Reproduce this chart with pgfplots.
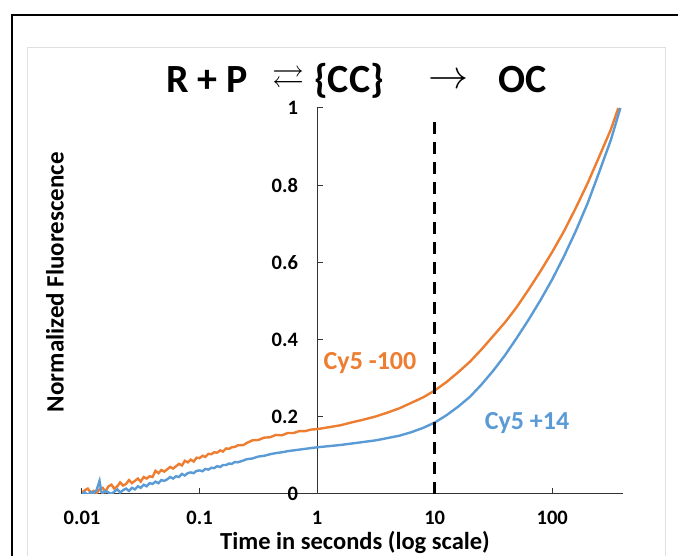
\documentclass[border=0pt]{standalone}
\usepackage{fontspec}
\setmainfont{Carlito}
\usepackage{amssymb}
\usepackage{graphicx}
\usepackage{pgfplots}
\pgfplotsset{compat=1.18}
\definecolor{corange}{RGB}{237,125,49}
\definecolor{cblue}{RGB}{91,155,213}
\begin{document}
\begin{tikzpicture}[x=1pt,y=1pt]
\path[use as bounding box] (0,0) rectangle (678,556);
\draw[line width=2pt] (12,-20) -- (12,541) -- (700,541);
\draw[black!12, line width=1pt] (27,-5) -- (27,508) -- (665,508) -- (665,-5);
\begin{axis}[at={(82pt,62pt)}, anchor=south west,
  width=541pt, height=386pt, scale only axis,
  xmode=log, xmin=0.01, xmax=400, ymin=0, ymax=1,
  axis lines=middle, clip=true,
  axis line style={black!80, line width=1pt, -},
  xtick={0.01,0.1,1,10,100}, xticklabels={0.01,0.1,1,10,100},
  ytick={0,0.2,0.4,0.6,0.8,1}, yticklabels={0,0.2,0.4,0.6,0.8,1},
  xminorticks=false, yminorticks=false,
  hide obscured x ticks=false, hide obscured y ticks=false,
  tick align=inside, major tick length=6pt,
  tick style={black!80, line width=1pt},
  xticklabel style={anchor=north, inner sep=0pt, yshift=-17pt, font=\fontsize{20.5}{22}\selectfont\bfseries},
  yticklabel style={anchor=east, inner sep=0pt, xshift=-19pt, font=\fontsize{20.5}{22}\selectfont\bfseries},
  /pgf/number format/assume math mode=true,
]
\addplot[corange, line width=2.4pt, no marks] coordinates {
(0.0100,0.004) (0.0106,0.010) (0.0112,0.014) (0.0119,0.003) (0.0126,0.008)
(0.0133,0.002) (0.0141,0.012) (0.0150,0.016) (0.0158,0.006) (0.0168,0.020)
(0.0178,0.024) (0.0188,0.014) (0.0200,0.020) (0.0211,0.030) (0.0224,0.022)
(0.0237,0.026) (0.0251,0.036) (0.0266,0.028) (0.0282,0.034) (0.0299,0.040)
(0.0316,0.032) (0.0335,0.044) (0.0355,0.040) (0.0376,0.046) (0.0398,0.044)
(0.0422,0.060) (0.0447,0.054) (0.0473,0.062) (0.0501,0.058) (0.0531,0.064)
(0.0562,0.070) (0.0596,0.066) (0.0631,0.072) (0.0668,0.078) (0.0708,0.074)
(0.0750,0.086) (0.0794,0.082) (0.0841,0.089) (0.0891,0.084) (0.0944,0.094)
(0.100,0.093) (0.106,0.099) (0.112,0.096) (0.119,0.104) (0.126,0.103)
(0.133,0.108) (0.141,0.107) (0.150,0.113) (0.158,0.110) (0.168,0.118)
(0.178,0.117) (0.188,0.121) (0.200,0.122) (0.211,0.126) (0.237,0.127)
(0.251,0.132) (0.282,0.139) (0.316,0.140) (0.355,0.146) (0.398,0.147)
(0.447,0.153) (0.501,0.152) (0.562,0.158) (0.631,0.158) (0.708,0.163)
(0.794,0.163) (0.891,0.167) (1.00,0.168) (1.26,0.173) (1.58,0.178)
(2.00,0.186) (2.51,0.193) (3.16,0.201) (3.98,0.211) (5.01,0.222)
(6.31,0.236) (7.94,0.250) (10.0,0.268) (12.6,0.290) (15.8,0.315)
(20.0,0.343) (25.1,0.375) (31.6,0.410) (39.8,0.445) (50.1,0.485)
(63.1,0.530) (79.4,0.577) (100,0.627) (126,0.681) (158,0.740)
(200,0.805) (251,0.874) (316,0.945) (365,1.000)
};
\addplot[cblue, line width=2.4pt, no marks] coordinates {
(0.0100,0.000) (0.0106,0.004) (0.0112,-0.004) (0.0119,0.006) (0.0126,0.002)
(0.0133,0.010) (0.0141,0.034) (0.0146,0.006) (0.0150,0.002) (0.0158,0.008)
(0.0168,0.004) (0.0178,0.000) (0.0188,0.006) (0.0200,0.012) (0.0211,0.004)
(0.0224,0.010) (0.0237,0.014) (0.0251,0.008) (0.0266,0.016) (0.0282,0.012)
(0.0299,0.020) (0.0316,0.016) (0.0335,0.024) (0.0355,0.020) (0.0376,0.028)
(0.0398,0.026) (0.0422,0.032) (0.0447,0.028) (0.0473,0.036) (0.0501,0.034)
(0.0531,0.038) (0.0562,0.044) (0.0596,0.040) (0.0631,0.046) (0.0668,0.044)
(0.0708,0.052) (0.0750,0.048) (0.0794,0.054) (0.0841,0.056) (0.0891,0.054)
(0.0944,0.060) (0.100,0.061) (0.106,0.059) (0.112,0.065) (0.119,0.063)
(0.126,0.068) (0.133,0.067) (0.141,0.072) (0.150,0.070) (0.158,0.075)
(0.168,0.075) (0.178,0.079) (0.188,0.078) (0.200,0.083) (0.211,0.082)
(0.237,0.087) (0.251,0.090) (0.282,0.092) (0.316,0.097) (0.355,0.099)
(0.398,0.103) (0.447,0.106) (0.501,0.108) (0.562,0.111) (0.631,0.113)
(0.708,0.115) (0.794,0.117) (0.891,0.119) (1.00,0.121) (1.26,0.124)
(1.58,0.127) (2.00,0.131) (2.51,0.135) (3.16,0.139) (3.98,0.145)
(5.01,0.151) (6.31,0.160) (7.94,0.171) (10.0,0.185) (12.6,0.204)
(15.8,0.226) (20.0,0.252) (25.1,0.284) (31.6,0.320) (39.8,0.360)
(50.1,0.405) (63.1,0.452) (79.4,0.502) (100,0.556) (126,0.616)
(158,0.680) (200,0.753) (251,0.834) (316,0.918) (380,1.000)
};
\addplot[black, line width=3pt, dash pattern=on 12pt off 8pt, no marks] coordinates {(10,0) (10,0.964)};
\end{axis}
% titles and labels
\node[anchor=base west, inner sep=0pt, font=\fontsize{40}{42}\selectfont\bfseries] at (166,463) {R + P};
\node[inner sep=0pt] at (288,476) {\resizebox{32pt}{!}{$\rightleftarrows$}};
\node[anchor=base west, inner sep=0pt, font=\fontsize{40}{42}\selectfont\bfseries] at (314,463) {\{CC\}};
\node[inner sep=0pt] at (448,475) {\resizebox{40pt}{!}{$\rightarrow$}};
\node[anchor=base west, inner sep=0pt, font=\fontsize{40}{42}\selectfont\bfseries] at (498,463) {OC};
\node[rotate=90, inner sep=0pt, font=\fontsize{25}{27}\selectfont\bfseries] at (55,274) {Normalized Fluorescence};
\node[anchor=base, inner sep=0pt, font=\fontsize{24.5}{26}\selectfont\bfseries] at (355,6) {Time in seconds (log scale)};
\node[inner sep=0pt, text=corange, font=\fontsize{26}{28}\selectfont\bfseries] at (370,193) {Cy5 -100};
\node[inner sep=0pt, text=cblue, font=\fontsize{26}{28}\selectfont\bfseries] at (527,133) {Cy5 +14};
\end{tikzpicture}
\end{document}
